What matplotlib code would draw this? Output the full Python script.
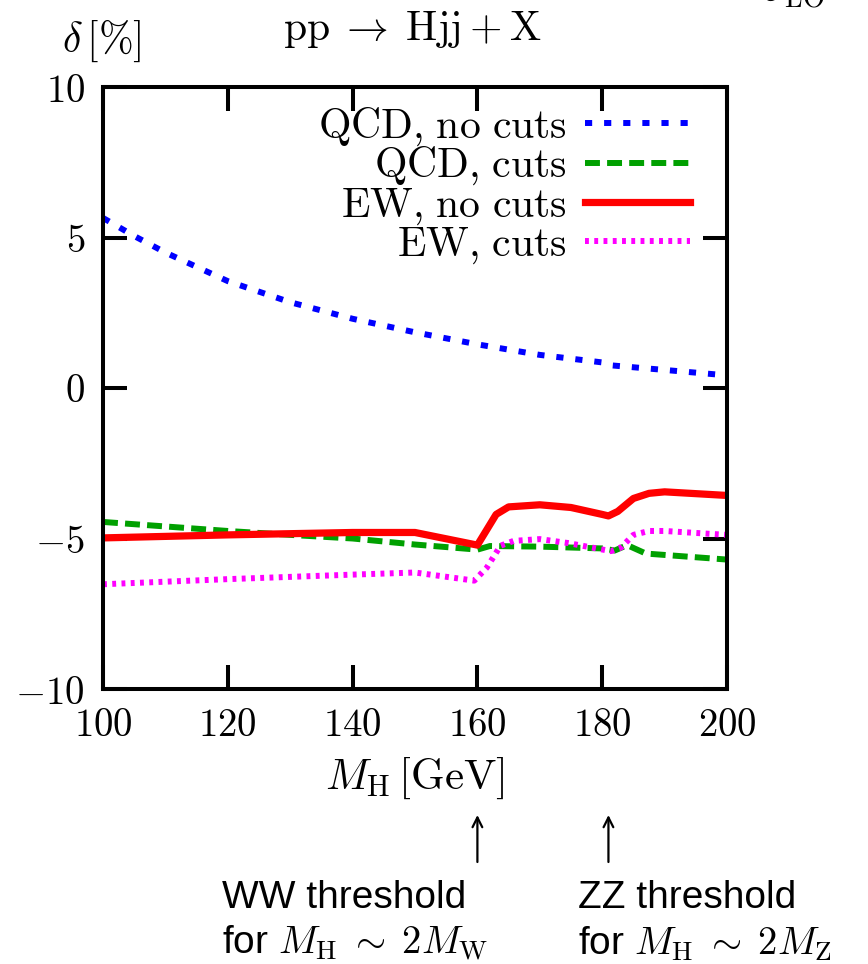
import numpy as np
import matplotlib
matplotlib.use('Agg')
import matplotlib.pyplot as plt

plt.rcParams['mathtext.fontset'] = 'cm'
plt.rcParams['font.family'] = ['DejaVu Serif']

# relative corrections delta [%] versus Higgs mass
mh_qcd_nocuts = [100, 105, 110, 120, 130, 140, 150, 160, 170, 180, 181, 190, 200]
qcd_nocuts = [5.65, 5.05, 4.5, 3.55, 2.85, 2.3, 1.85, 1.45, 1.1, 0.85, 0.76, 0.6, 0.42]

mh_qcd_cuts = [100, 110, 120, 130, 140, 150, 160, 162, 170, 180, 182, 184, 187, 200]
qcd_cuts = [-4.45, -4.6, -4.75, -4.88, -5.0, -5.2, -5.37, -5.25, -5.27, -5.33, -5.4, -5.22, -5.5, -5.7]

mh_ew_nocuts = [100, 120, 140, 150, 160, 163, 165, 170, 175, 180, 181, 182.5, 185, 187.5, 190, 200]
ew_nocuts = [-4.98, -4.88, -4.8, -4.8, -5.22, -4.2, -3.95, -3.88, -3.97, -4.2, -4.25, -4.1,
             -3.67, -3.5, -3.45, -3.57]

mh_ew_cuts = [100, 120, 140, 150, 159.5, 161.5, 163.7, 165.8, 170, 174.5, 181.4, 183, 185,
              187.5, 190, 200]
ew_cuts = [-6.52, -6.35, -6.2, -6.13, -6.4, -5.97, -5.24, -5.08, -5.02, -5.15, -5.42, -5.3,
           -4.88, -4.75, -4.75, -4.88]

xticks = [100, 120, 140, 160, 180, 200]
yticks = [-10, -5, 0, 5, 10]

thresholds = [160, 181]
threshold_names = ['WW', 'ZZ']
threshold_bosons = ['W', 'Z']

fig = plt.figure(figsize=(8.68, 9.64), dpi=100)
ax = fig.add_axes([103 / 868, 1 - 689 / 964, 624 / 868, 602 / 964])

ax.plot(mh_qcd_nocuts, qcd_nocuts, color='#0000ff', lw=4.3, linestyle=(0, (1.2, 2.0)),
        label=r'$\mathrm{QCD{,}\ no\ cuts}$')
ax.plot(mh_qcd_cuts, qcd_cuts, color='#00a000', lw=4.3, linestyle=(0, (2.5, 1.2)),
        label=r'$\mathrm{QCD{,}\ cuts}$')
ax.plot(mh_ew_nocuts, ew_nocuts, color='#ff0000', lw=5.2, solid_joinstyle='round',
        label=r'$\mathrm{EW{,}\ no\ cuts}$')
ax.plot(mh_ew_cuts, ew_cuts, color='#ff00ff', lw=4.3, linestyle=(0, (0.65, 0.9)),
        label=r'$\mathrm{EW{,}\ cuts}$')

ax.set_xlim(100, 200)
ax.set_ylim(-10, 10)
ax.set_xticks(xticks, [f'${t}$' for t in xticks])
ax.set_yticks(yticks, [f'${t}$' for t in yticks])
ax.tick_params(direction='in', length=17, width=2.9, labelsize=28,
               top=True, right=True)
ax.tick_params(axis='x', pad=13)
ax.tick_params(axis='y', pad=13)
for s in ax.spines.values():
    s.set_linewidth(2.9)

leg = ax.legend(loc='upper right', bbox_to_anchor=(0.94, 0.97), frameon=False,
                markerfirst=False, fontsize=30, handlelength=2.5, handletextpad=0.45,
                labelspacing=-0.1, borderpad=0, borderaxespad=0)

ax.set_xlabel(r'$M_{\mathrm{H}}\,[\mathrm{GeV}]$', fontsize=31, labelpad=8)

fig.text(62 / 868, 1 - 52 / 964, r'$\delta\,[\%]$', fontsize=30, va='baseline')
fig.text(412 / 868, 1 - 40 / 964,
         r'$\mathrm{pp}\;\rightarrow\;\mathrm{Hjj} + \mathrm{X}$',
         fontsize=30, ha='center', va='baseline')
fig.text(762 / 868, 1 - 2 / 964, r'$\sigma_{\mathrm{LO}}$', fontsize=29, va='baseline')

# threshold markers below the axis
text_left = [222, 578]
for xt, name, boson, xl in zip(thresholds, threshold_names, threshold_bosons, text_left):
    ax.annotate('', xy=(xt, 964 - 815), xytext=(xt, 964 - 862),
                xycoords=('data', 'figure pixels'), textcoords=('data', 'figure pixels'),
                arrowprops=dict(arrowstyle='->,head_length=0.7,head_width=0.35', lw=1.6,
                                color='black', shrinkA=0, shrinkB=0))
    fig.text(xl / 868, 1 - 908 / 964, f'{name} threshold', fontsize=28,
             family='Liberation Sans', va='baseline')
    fig.text(xl / 868, 1 - 954 / 964,
             r'for $M_{\mathrm{H}}\;\sim\;2M_{\mathrm{' + boson + r'}}$',
             fontsize=28, family='Liberation Sans', va='baseline')

fig.savefig('out.png', dpi=100)
